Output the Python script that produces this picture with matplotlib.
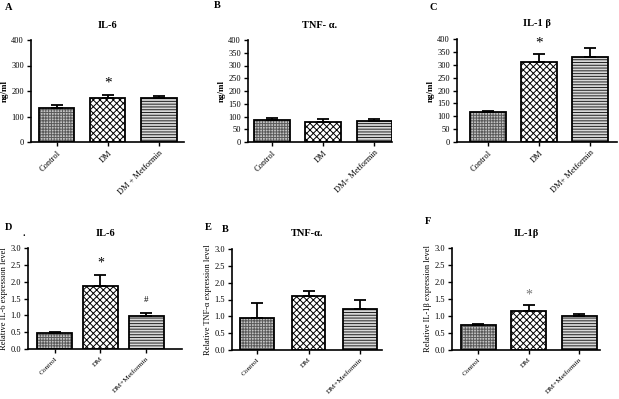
import matplotlib
matplotlib.use("Agg")
import matplotlib.pyplot as plt
import numpy as np

plt.rcParams['font.family'] = ['Liberation Serif', 'DejaVu Serif']
plt.rcParams['hatch.linewidth'] = 0.7

# ---------------- data ----------------
groups_A = ["Control", "DM", "DM + Metformin"]
groups_BC = ["Control", "DM", "DM+ Metformin"]
groups_DEF = ["Control", "DM", "DM+Metformin"]

il6_serum = [133, 174, 171]
il6_serum_err = [14, 11, 8]
tnf_serum = [88, 79, 81]
tnf_serum_err = [8, 10, 11]
il1b_serum = [117, 312, 332]
il1b_serum_err = [4, 29, 33]

il6_rel = [0.49, 1.88, 0.97]
il6_rel_err = [0.02, 0.33, 0.11]
tnf_rel = [0.94, 1.60, 1.23]
tnf_rel_err = [0.46, 0.16, 0.26]
il1b_rel = [0.73, 1.15, 1.01]
il1b_rel_err = [0.03, 0.17, 0.06]

serum_ticks_A = [0, 100, 200, 300, 400]
serum_ticks_BC = [0, 50, 100, 150, 200, 250, 300, 350, 400]
rel_ticks = [0.0, 0.5, 1.0, 1.5, 2.0, 2.5, 3.0]

W, H = 619, 399
fig = plt.figure(figsize=(W / 100, H / 100), dpi=100)


def rect(l, r, t, b):
    return [l / W, 1 - b / H, (r - l) / W, (b - t) / H]


styles = [
    dict(face='#c4c4c4', hatch='++++++', hc='#5a5a5a'),
    dict(face='white', hatch='xxxxx', hc='black'),
    dict(face='#d8d8d8', hatch='------', hc='#222222'),
]


def panel(r, xlim, width, labels, means, errs, yticks, ylim, title,
          ylabel, yfmt=None, ylabel_size=6.5, ylabel_bold=False,
          xlabsize=6):
    ax = fig.add_axes(rect(*r))
    x = np.arange(len(means))
    for i in range(len(means)):
        st = styles[i]
        ax.bar(x[i], means[i], width=width, color=st['face'],
               hatch=st['hatch'], edgecolor=st['hc'], linewidth=0, zorder=2)
        ax.bar(x[i], means[i], width=width, fill=False,
               edgecolor='black', linewidth=1.3, zorder=3)
    ax.errorbar(x, means, yerr=[np.zeros(len(errs)), errs], fmt='none',
                ecolor='black', elinewidth=1.3, capsize=4.5, capthick=1.3,
                zorder=4)
    ax.set_xlim(*xlim)
    ax.set_ylim(*ylim)
    ax.set_yticks(yticks)
    if yfmt:
        ax.set_yticklabels([yfmt.format(v) for v in yticks])
    ax.set_xticks(x)
    ax.set_xticklabels(labels, rotation=45, ha='right',
                       rotation_mode='anchor', fontsize=xlabsize)
    ax.tick_params(axis='y', direction='out', length=3, width=1,
                   labelsize=6, pad=2)
    ax.tick_params(axis='x', direction='out', length=3, width=1, pad=2)
    for s in ['top', 'right']:
        ax.spines[s].set_visible(False)
    for s in ['left', 'bottom']:
        ax.spines[s].set_linewidth(1.2)
    ax.set_title(title, fontsize=7.5, fontweight='bold', pad=9)
    ax.set_ylabel(ylabel, fontsize=ylabel_size,
                  fontweight='bold' if ylabel_bold else 'normal', labelpad=2)
    return ax


axA = panel((31, 184, 40, 142), (-0.5, 2.49), 0.69, groups_A, il6_serum,
            il6_serum_err, serum_ticks_A, (0, 400), "IL-6", "ng/ml",
            ylabel_bold=True)
axA.text(1, 231, "*", ha='center', va='center', fontsize=11)

axB = panel((248, 392, 40, 142), (-0.47, 2.35), 0.69, groups_BC, tnf_serum,
            tnf_serum_err, serum_ticks_BC, (0, 400), "TNF- \u03b1.", "ng/ml",
            ylabel_bold=True)

axC = panel((457, 617, 39, 142), (-0.61, 2.53), 0.71, groups_BC, il1b_serum,
            il1b_serum_err, serum_ticks_BC, (0, 400), "IL-1 \u03b2", "ng/ml",
            ylabel_bold=True)
axC.text(1, 384, "*", ha='center', va='center', fontsize=11)

axD = panel((28, 182, 248, 349), (-0.58, 2.78), 0.76, groups_DEF, il6_rel,
            il6_rel_err, rel_ticks, (0, 3), "IL-6",
            "Relative IL-6 expression level", yfmt="{:.1f}",
            ylabel_size=6, xlabsize=5.3)
axD.text(1, 2.55, "*", ha='center', va='center', fontsize=10)
axD.text(2, 1.45, "#", ha='center', va='center', fontsize=6.5)

axE = panel((232, 382, 249, 350), (-0.49, 2.43), 0.66, groups_DEF, tnf_rel,
            tnf_rel_err, rel_ticks, (0, 3), "TNF-\u03b1.",
            "Relative TNF-\u03b1 expression level", yfmt="{:.1f}",
            ylabel_size=6, xlabsize=5.3)

axF = panel((452, 600, 248, 350), (-0.52, 2.41), 0.69, groups_DEF, il1b_rel,
            il1b_rel_err, rel_ticks, (0, 3), "IL-1\u03b2",
            "Relative IL-1\u03b2 expression level", yfmt="{:.1f}",
            ylabel_size=6, xlabsize=5.3)
axF.text(1, 1.62, "*", ha='center', va='center', fontsize=10, color='#777777')


def letter(px, py, s, size=7.5):
    fig.text(px / W, 1 - py / H, s, fontsize=size, fontweight='bold',
             ha='left', va='center')


letter(5, 7, "A")
letter(214, 6, "B")
letter(430, 7, "C")
letter(5, 227, "D")
letter(22, 233, ".")
letter(205, 227, "E")
letter(222, 230, "B")
letter(425, 222, "F")

fig.savefig("out.png", dpi=100)
